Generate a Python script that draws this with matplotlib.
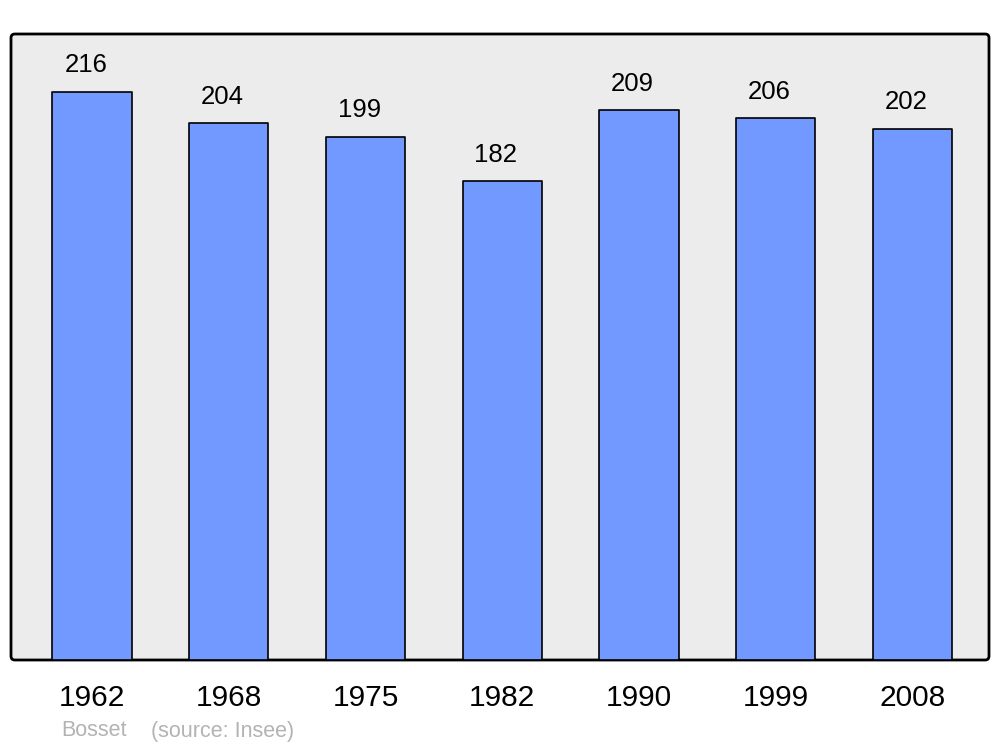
import matplotlib
matplotlib.use("Agg")
import matplotlib.pyplot as plt
from matplotlib.patches import FancyBboxPatch

years = ["1962", "1968", "1975", "1982", "1990", "1999", "2008"]
population = [216, 204, 199, 182, 209, 206, 202]

plt.rcParams['font.family'] = ['Liberation Sans', 'DejaVu Sans']

fig = plt.figure(figsize=(10, 7.47), dpi=100)
ax = fig.add_axes([0.011, 1 - 660/747, 0.978, (660-34)/747])
ax.set_facecolor('none')
for s in ax.spines.values():
    s.set_visible(False)

# rounded background frame
bg = FancyBboxPatch((0, 0), 1, 1, boxstyle="round,pad=0,rounding_size=0.004",
                    transform=ax.transAxes, facecolor='#ececec', edgecolor='black',
                    linewidth=2, zorder=0, clip_on=False, mutation_aspect=978/626)
ax.add_patch(bg)

x = list(range(len(years)))
bars = ax.bar(x, population, width=0.58, color='#7299ff', edgecolor='black',
              linewidth=1.2, zorder=2, joinstyle='round')
ax.set_xlim(-0.592, 6.56)
ax.set_ylim(0, 238)
ax.set_yticks([])
ax.set_xticks(x)
ax.set_xticklabels(years, fontsize=21.5)
ax.tick_params(axis='x', length=0, pad=17)

for xi, v in zip(x, population):
    ax.annotate(str(v), (xi, v), xytext=(-4.5, 10.5), textcoords='offset points',
                ha='center', va='bottom', fontsize=18.5)

fig.text(61/1000, 1 - 731/747, "Bosset", color='#b3b3b3', fontsize=15.5,
         ha='left', va='center')
fig.text(151/1000, 1 - 731/747, "(source: Insee)", color='#b3b3b3', fontsize=15.5,
         ha='left', va='center')

fig.savefig("out.png", dpi=100)
